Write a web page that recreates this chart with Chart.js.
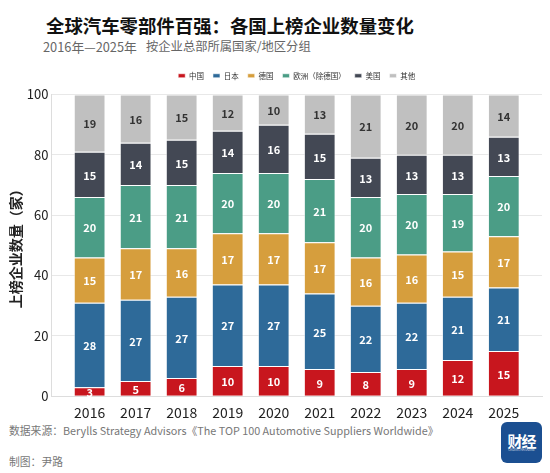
<!DOCTYPE html>
<html>
<head>
<meta charset="utf-8">
<script src="https://cdn.jsdelivr.net/npm/chart.js@4.4.0/dist/chart.umd.min.js"></script>
<style>
body { margin: 0; background: #fff; width: 550px; height: 473px; overflow: hidden; position: relative; font-family: "Noto Sans CJK SC", "Noto Sans", sans-serif; }
#title { position: absolute; left: 46px; top: 12px; font-size: 18.4px; font-weight: bold; color: #111; white-space: nowrap; }
#sub { position: absolute; left: 43px; top: 37px; font-size: 12.8px; color: #666; white-space: nowrap; }
#sub span { position: absolute; left: 103px; top: 0; font-size: 12.3px; }
#chartBox { position: absolute; left: 0; top: 0; width: 550px; height: 421px; }
#src { position: absolute; left: 9px; top: 422px; font-size: 10.8px; color: #777; white-space: nowrap; }
#by { position: absolute; left: 9px; top: 453px; font-size: 10.8px; color: #777; white-space: nowrap; }
#logo { position: absolute; left: 501px; top: 422px; width: 41px; height: 41px; background: #1b4f91; border-radius: 6px; color: #fff; text-align: center; }
#logo b { display: block; font-size: 15px; line-height: 15px; margin-top: 11px; letter-spacing: -1px; }
#logo i { display: block; font-size: 3px; font-style: normal; line-height: 4px; opacity: 0.8; }
</style>
</head>
<body>
<div id="title">全球汽车零部件百强：各国上榜企业数量变化</div>
<div id="sub">2016年—2025年<span>按企业总部所属国家/地区分组</span></div>
<div id="chartBox"><canvas id="chart"></canvas></div>
<div id="src">数据来源：Berylls Strategy Advisors《The TOP 100 Automotive Suppliers Worldwide》</div>
<div id="by">制图：尹路</div>
<div id="logo"><b>财经</b><i>CAIJING MAGAZINE</i></div>
<script>
const years = ['2016', '2017', '2018', '2019', '2020', '2021', '2022', '2023', '2024', '2025'];
const china = [3, 5, 6, 10, 10, 9, 8, 9, 12, 15];
const japan = [28, 27, 27, 27, 27, 25, 22, 22, 21, 21];
const germany = [15, 17, 16, 17, 17, 17, 16, 16, 15, 17];
const europe = [20, 21, 21, 20, 20, 21, 20, 20, 19, 20];
const usa = [15, 14, 15, 14, 16, 15, 13, 13, 13, 13];
const others = [19, 16, 15, 12, 10, 13, 21, 20, 20, 14];
const yTicks = [0, 20, 40, 60, 80, 100];

const series = [
    { label: '中国', data: china, color: '#c8161e', text: '#fff' },
    { label: '日本', data: japan, color: '#2e6a99', text: '#fff' },
    { label: '德国', data: germany, color: '#d69e3d', text: '#fff' },
    { label: '欧洲（除德国）', data: europe, color: '#4b9d86', text: '#fff' },
    { label: '美国', data: usa, color: '#434854', text: '#fff' },
    { label: '其他', data: others, color: '#c0c0c0', text: '#333' }
];

Chart.defaults.font.family = '"Noto Sans CJK SC", "Noto Sans", sans-serif';

// numbers in the middle of each segment
const segmentLabels = {
    id: 'segmentLabels',
    afterDatasetsDraw(chart) {
        const ctx = chart.ctx;
        ctx.save();
        ctx.font = 'bold 11px "Noto Sans CJK SC", "Noto Sans", sans-serif';
        ctx.textAlign = 'center';
        ctx.textBaseline = 'middle';
        chart.data.datasets.forEach((ds, di) => {
            const meta = chart.getDatasetMeta(di);
            meta.data.forEach((bar, i) => {
                ctx.fillStyle = series[di].text;
                ctx.fillText(String(ds.data[i].y), bar.x, (bar.y + bar.base) / 2 + 1);
            });
        });
        ctx.restore();
    }
};

// a bit more room under the legend
const legendGap = {
    id: 'legendGap',
    beforeInit(chart) {
        const fit = chart.legend.fit;
        chart.legend.fit = function () {
            fit.bind(chart.legend)();
            this.height += 5;
        };
    }
};

new Chart(document.getElementById('chart'), {
    type: 'bar',
    data: {
        datasets: series.map(s => ({
            label: s.label,
            data: s.data.map((v, i) => ({ x: i, y: v })),
            backgroundColor: s.color,
            borderColor: 'rgba(255,255,255,0.55)',
            borderWidth: 1,
            categoryPercentage: 1,
            barPercentage: 0.69
        }))
    },
    options: {
        responsive: true,
        maintainAspectRatio: false,
        animation: false,
        layout: { padding: { top: 63, left: 5, right: 8, bottom: 0 } },
        plugins: {
            legend: {
                position: 'top',
                fullSize: false,
                labels: {
                    boxWidth: 7,
                    boxHeight: 4,
                    padding: 9,
                    color: '#333',
                    font: { size: 7.5 }
                }
            },
            tooltip: { enabled: false }
        },
        scales: {
            x: {
                type: 'linear',
                stacked: true,
                offset: false,
                min: -0.83,
                max: years.length - 1 + 0.83,
                grid: { display: false },
                border: { color: '#dddddd' },
                afterBuildTicks(axis) {
                    axis.ticks = years.map((y, i) => ({ value: i }));
                },
                ticks: {
                    autoSkip: false,
                    maxRotation: 0,
                    color: '#222',
                    font: { size: 14 },
                    padding: 0,
                    callback: v => years[v]
                }
            },
            y: {
                stacked: true,
                min: 0,
                max: 100,
                afterBuildTicks(axis) {
                    axis.ticks = yTicks.map(v => ({ value: v }));
                },
                grid: { color: '#e8e8e8', drawTicks: false },
                border: { color: '#dddddd' },
                ticks: { color: '#222', font: { size: 13 }, padding: 3 },
                title: {
                    display: true,
                    text: '上榜企业数量（家）',
                    color: '#222',
                    font: { size: 14, weight: 'bold' },
                    padding: { top: 2, bottom: 0 }
                }
            }
        }
    },
    plugins: [segmentLabels, legendGap]
});
</script>
</body>
</html>
